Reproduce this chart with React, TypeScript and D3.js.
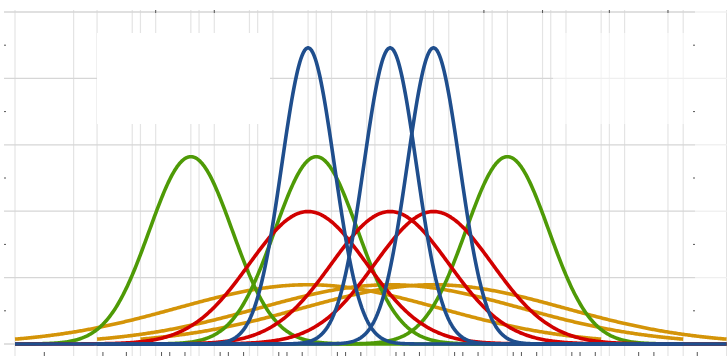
import React, { useEffect, useRef } from "react";
import * as d3 from "d3";

// three shifted copies of the same family of normal curves
const groupCenters = [0, 1.4, 2.14];
const greenOffsets = [-2, 2, -2];
const blueVar = 0.2;
const redVar = 1.0;
const orangeVar = 5.0;
const greenVar = 0.5;
const halfRange = 5;

const yGrid = [0, 0.2, 0.4, 0.6, 0.8, 1.0];
const yMinorTicks = [0.1, 0.3, 0.5, 0.7, 0.9];
const bottomTickOffsets = [-4.5, -3.5, -2.5, -1.5, -0.5, 0.5, 1.5, 2.5, 3.5, 4.5];
const gridOffsets = [-5, -4, -3, -2, -1, 0, 1, 2, 3, 4, 5];
// [group, offset] for the few ticks on top
const topTicks: [number, number][] = [
  [1, -4], [1, -3], [0, 3], [0, 4], [2, 3], [2, 4],
];

const colors = {
  blue: "#1f4e8d",
  red: "#d10000",
  orange: "#d49408",
  green: "#4e9a06",
};

function pdf(x: number, mu: number, v: number) {
  return Math.exp(-((x - mu) * (x - mu)) / (2 * v)) / Math.sqrt(2 * Math.PI * v);
}

export default function App() {
  const ref = useRef<SVGSVGElement>(null);

  useEffect(() => {
    const width = 727;
    const height = 356;
    const svg = d3.select(ref.current);
    svg.selectAll("*").remove();

    const x = d3.scaleLinear().domain([-5, 7.13]).range([15, 726]);
    const y = d3.scaleLinear().domain([0, 1]).range([344, 12]);

    svg.append("rect").attr("width", width).attr("height", height).attr("fill", "#fff");

    // vertical gridlines, one set per group
    const g = svg.append("g");
    groupCenters.forEach((c) => {
      gridOffsets.forEach((k) => {
        g.append("line")
          .attr("x1", x(c + k))
          .attr("x2", x(c + k))
          .attr("y1", 10)
          .attr("y2", 356)
          .attr("stroke", "#e4e4e4")
          .attr("stroke-width", 1.2);
      });
    });

    // horizontal gridlines
    yGrid.forEach((v) => {
      g.append("line")
        .attr("x1", 4)
        .attr("x2", 695)
        .attr("y1", y(v))
        .attr("y2", y(v))
        .attr("stroke", "#d6d6d6")
        .attr("stroke-width", 1.3);
      g.append("line")
        .attr("x1", 695)
        .attr("x2", 727)
        .attr("y1", y(v))
        .attr("y2", y(v))
        .attr("stroke", "#efefef")
        .attr("stroke-width", 1.3);
    });

    // blank boxes where the grid is missing
    svg.append("rect").attr("x", 97).attr("y", 33).attr("width", 173).attr("height", 91).attr("fill", "#fff");
    svg.append("rect").attr("x", 553).attr("y", 33).attr("width", 142).attr("height", 91).attr("fill", "#fff").attr("opacity", 0.6);

    // small ticks
    const t = svg.append("g").attr("stroke", "#555").attr("stroke-width", 1);
    groupCenters.forEach((c) => {
      bottomTickOffsets.forEach((k) => {
        t.append("line").attr("x1", x(c + k)).attr("x2", x(c + k)).attr("y1", 352).attr("y2", 356);
      });
    });
    topTicks.forEach(([gi, k]) => {
      const px = x(groupCenters[gi] + k);
      t.append("line").attr("x1", px).attr("x2", px).attr("y1", 10).attr("y2", 13);
    });
    yMinorTicks.forEach((v) => {
      t.append("line").attr("x1", 4).attr("x2", 6).attr("y1", y(v)).attr("y2", y(v));
      t.append("line").attr("x1", 693).attr("x2", 695).attr("y1", y(v)).attr("y2", y(v));
    });

    const line = d3
      .line<[number, number]>()
      .x((d) => x(d[0]))
      .y((d) => y(d[1]))
      .curve(d3.curveLinear);

    const curve = (c: number, mu: number, v: number) =>
      d3.range(c - halfRange, c + halfRange + 0.001, 0.02).map((u) => [u, pdf(u, mu, v)] as [number, number]);

    const draw = (pts: [number, number][], color: string) =>
      svg
        .append("path")
        .datum(pts)
        .attr("fill", "none")
        .attr("stroke", color)
        .attr("stroke-width", 3.6)
        .attr("stroke-linejoin", "round")
        .attr("d", line);

    groupCenters.forEach((c) => draw(curve(c, c, orangeVar), colors.orange));
    groupCenters.forEach((c, i) => draw(curve(c, c + greenOffsets[i], greenVar), colors.green));
    groupCenters.forEach((c) => draw(curve(c, c, redVar), colors.red));
    groupCenters.forEach((c) => draw(curve(c, c, blueVar), colors.blue));
  }, []);

  return (
    <svg
      ref={ref}
      width={727}
      height={356}
      style={{ position: "absolute", left: 0, top: 0, display: "block" }}
    />
  );
}
